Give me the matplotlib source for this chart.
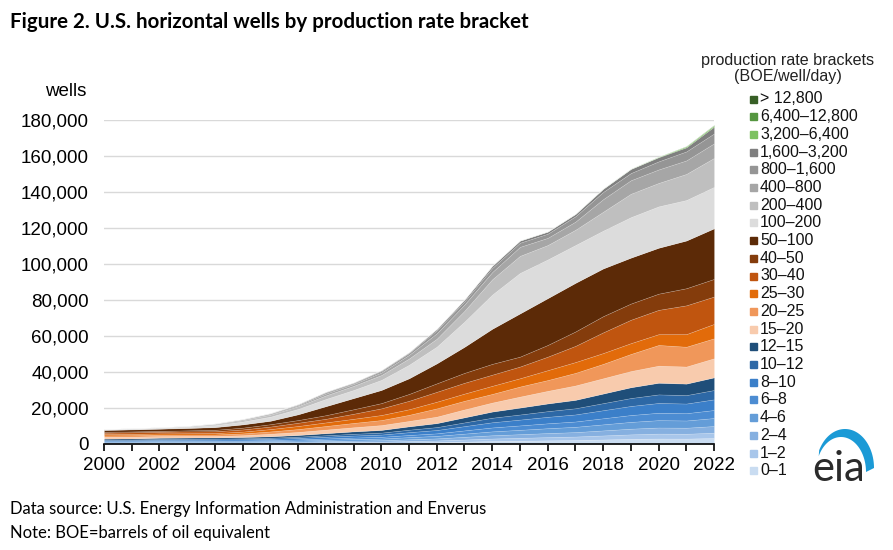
import numpy as np
import matplotlib
matplotlib.use("Agg")
import matplotlib.pyplot as plt
from matplotlib.patches import Rectangle, Polygon
from matplotlib.ticker import FuncFormatter

years = list(range(2000, 2023))

brackets = ["0–1", "1–2", "2–4", "4–6", "6–8", "8–10", "10–12", "12–15",
            "15–20", "20–25", "25–30", "30–40", "40–50", "50–100",
            "100–200", "200–400", "400–800", "800–1,600", "1,600–3,200",
            "3,200–6,400", "6,400–12,800", "> 12,800"]

w_0_1 = [270, 280, 320, 320, 330, 350, 390, 450, 540, 630, 700, 880, 1040, 1330, 1620, 1820, 2030, 2200, 2520, 2840, 3060, 3020, 3330]
w_1_2 = [240, 250, 280, 290, 300, 310, 340, 400, 480, 560, 620, 780, 930, 1180, 1440, 1620, 1800, 1960, 2240, 2520, 2720, 2680, 2960]
w_2_4 = [300, 310, 350, 360, 370, 390, 430, 500, 600, 700, 780, 980, 1160, 1480, 1800, 2020, 2250, 2450, 2800, 3150, 3400, 3350, 3700]
w_4_6 = [360, 370, 420, 430, 440, 470, 520, 600, 720, 840, 940, 1180, 1390, 1780, 2160, 2420, 2700, 2940, 3360, 3780, 4080, 4020, 4440]
w_6_8 = [350, 360, 410, 420, 430, 460, 510, 610, 730, 850, 950, 1190, 1400, 1800, 2180, 2450, 2720, 2960, 3380, 3800, 4100, 4050, 4460]
w_8_10 = [480, 500, 560, 580, 590, 620, 690, 800, 960, 1120, 1250, 1570, 1860, 2370, 2880, 3230, 3600, 3920, 4480, 5040, 5440, 5360, 5920]
w_10_12 = [420, 430, 490, 500, 520, 550, 600, 700, 840, 980, 1090, 1370, 1620, 2070, 2520, 2830, 3150, 3430, 3920, 4410, 4760, 4690, 5180]
w_12_15 = [570, 590, 660, 680, 700, 740, 820, 950, 1140, 1330, 1480, 1860, 2200, 2810, 3420, 3840, 4270, 4660, 5320, 5990, 6460, 6370, 7030]
w_15_20 = [1000, 1000, 900, 900, 800, 1000, 1400, 1700, 2000, 2300, 2700, 3000, 3600, 4400, 5000, 6100, 7000, 8000, 8500, 9000, 9500, 9500, 10600]
w_20_25 = [800, 800, 800, 800, 800, 1000, 1300, 1600, 2000, 2400, 2800, 3400, 4600, 4800, 4800, 5600, 6000, 7000, 8000, 9500, 11500, 11000, 11100]
w_25_30 = [700, 700, 700, 700, 800, 1000, 1300, 1700, 2000, 2300, 2800, 3100, 3700, 4000, 4500, 4600, 5500, 6000, 6000, 6000, 6000, 7000, 8000]
w_30_40 = [800, 900, 900, 1000, 1000, 1200, 1400, 1800, 2000, 2800, 3700, 4700, 5500, 6000, 6200, 6500, 7500, 9000, 11500, 13000, 13500, 16000, 15200]
w_40_50 = [500, 500, 500, 600, 800, 1000, 1300, 1500, 2000, 2500, 2900, 3800, 4700, 5500, 6000, 5500, 6500, 8000, 9000, 9000, 9000, 9500, 9800]
w_50_100 = [1000, 1100, 1200, 1300, 1500, 1800, 1900, 3200, 5000, 6200, 7300, 8700, 11100, 14500, 19500, 24000, 26000, 27000, 26500, 25500, 25500, 26500, 28100]
w_100_200 = [300, 400, 500, 700, 1100, 1600, 2300, 3000, 4000, 4500, 5600, 7500, 9300, 14000, 19000, 22500, 21500, 21000, 21000, 22500, 23000, 22500, 23000]
w_200_400 = [150, 200, 200, 300, 500, 700, 1100, 1500, 2000, 2300, 2700, 3500, 4400, 6000, 8500, 9500, 8000, 8500, 10500, 13000, 13000, 14500, 16100]
w_400_800 = [50, 50, 100, 100, 300, 400, 500, 600, 1000, 1000, 1400, 2000, 3000, 3500, 4000, 5000, 4000, 4500, 7000, 7500, 7500, 7500, 8100]
w_800_1600 = [30, 50, 50, 50, 100, 200, 300, 400, 600, 500, 800, 1000, 1700, 1800, 2300, 2300, 2300, 3000, 4000, 4000, 4500, 5000, 5500]
w_1600_3200 = [20, 20, 20, 50, 50, 100, 100, 200, 400, 400, 500, 500, 800, 1000, 1200, 1200, 1200, 1300, 1800, 2300, 2300, 2300, 3800]
w_3200_6400 = [0, 0, 0, 0, 0, 0, 0, 0, 0, 0, 0, 0, 0, 0, 20, 30, 30, 40, 60, 100, 250, 550, 700]
w_6400_12800 = [0, 0, 0, 0, 0, 0, 0, 0, 0, 0, 0, 0, 0, 0, 0, 0, 0, 0, 0, 20, 50, 120, 200]
w_gt_12800 = [0, 0, 0, 0, 0, 0, 0, 0, 0, 0, 0, 0, 0, 0, 0, 0, 0, 0, 0, 0, 10, 30, 60]

series = [w_0_1, w_1_2, w_2_4, w_4_6, w_6_8, w_8_10, w_10_12, w_12_15,
          w_15_20, w_20_25, w_25_30, w_30_40, w_40_50, w_50_100,
          w_100_200, w_200_400, w_400_800, w_800_1600, w_1600_3200,
          w_3200_6400, w_6400_12800, w_gt_12800]

colors = ["#c9dcf1", "#a8c6ea", "#86b0e0", "#649dd8", "#4c8cd2", "#3b7fc9",
          "#2d68a6", "#1f4e79",
          "#f8cbad", "#f0975a", "#e26b0a", "#c0550f", "#843c0c", "#5c2a07",
          "#dcdcdc", "#bfbfbf", "#a6a6a6", "#959595", "#7f7f7f",
          "#7cc160", "#559640", "#375f26"]

W, H = 893, 550
fig = plt.figure(figsize=(W / 100, H / 100), dpi=100)

def fx(px):
    return px / W

def fy(py):
    return 1 - py / H

ax = fig.add_axes([fx(104), fy(444), fx(714) - fx(104), fy(120) - fy(444)])
polys = ax.stackplot(years, *series, colors=colors, lw=0.4,
                     edgecolor=(1, 1, 1, 0.25))
ax.set_xlim(2000, 2022)
ax.set_ylim(0, 180000)
ax.set_axisbelow(True)
ax.yaxis.grid(True, color="#d9d9d9", lw=1)
for s in ["top", "right", "left"]:
    ax.spines[s].set_visible(False)
ax.spines["bottom"].set_color("black")
ax.spines["bottom"].set_linewidth(1.2)
ax.set_yticks(range(0, 180001, 20000))
ax.yaxis.set_major_formatter(FuncFormatter(lambda v, p: f"{int(v):,}"))
ax.tick_params(axis="y", length=0, pad=11, labelsize=13.5)
ax.set_xticks(years)
ax.set_xticklabels([str(y) if y % 2 == 0 else "" for y in years])
ax.tick_params(axis="x", length=5, width=1.2, direction="out", pad=4,
               labelsize=13.5, color="black")
for lab in ax.get_xticklabels() + ax.get_yticklabels():
    lab.set_fontfamily("Liberation Sans")

fig.text(fx(66), fy(92), "wells", ha="center", va="center", fontsize=13.5,
         family="Liberation Sans")

fig.text(fx(10), fy(22), "Figure 2. U.S. horizontal wells by production rate bracket",
         ha="left", va="center", fontsize=14.8, fontweight="bold", family="Lato")
fig.text(fx(10), fy(509), "Data source: U.S. Energy Information Administration and Enverus",
         ha="left", va="center", fontsize=12, family="Lato")
fig.text(fx(10), fy(533), "Note: BOE=barrels of oil equivalent",
         ha="left", va="center", fontsize=12, family="Lato")

# legend
fig.text(fx(788), fy(60), "production rate brackets", ha="center", va="center",
         fontsize=11.6, family="Liberation Sans", color="#222222")
fig.text(fx(788), fy(77), "(BOE/well/day)", ha="center", va="center",
         fontsize=11.6, family="Liberation Sans", color="#222222")
y0, dy = 99, 17.7
for i, (lab, col) in enumerate(zip(brackets[::-1], colors[::-1])):
    yy = y0 + i * dy
    fig.patches.append(Rectangle((fx(750), fy(yy + 3.5)), fx(7), 7 / H,
                                 transform=fig.transFigure, color=col,
                                 figure=fig))
    fig.text(fx(760), fy(yy), lab, ha="left", va="center", fontsize=11.5,
             family="Liberation Sans", color="#111111")

# eia logo
lax = fig.add_axes([fx(800), fy(492), fx(882) - fx(800), fy(420) - fy(492)])
lax.set_xlim(800, 882)
lax.set_ylim(492, 420)
lax.axis("off")
t1 = np.linspace(np.pi * 0.85, 0.0, 60)
outer = np.column_stack([845 + 29 * np.cos(t1), 468 - 39 * np.sin(t1)])
inner = np.column_stack([841 + 25 * np.cos(t1[::-1]), 472 - 35 * np.sin(t1[::-1])])
lax.add_patch(Polygon(np.vstack([outer, inner]), closed=True, color="#1b9ad6", lw=0))
fig.text(fx(839), fy(469), "eia", ha="center", va="center", fontsize=30,
         family="Lato", color="#2b2b2b")

fig.savefig("out.png", dpi=100)
